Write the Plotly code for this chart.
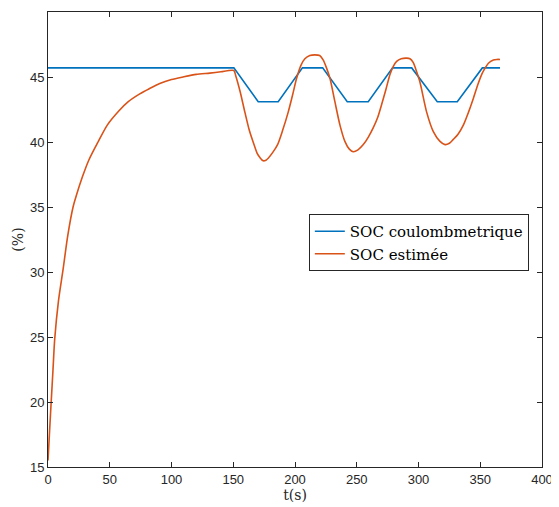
import plotly.graph_objects as go

# SOC coulombmetrique (blue)
t_coul = [0, 150.5, 170.2, 186.4, 206, 222.4, 242.3, 259.3, 279, 294.5, 315.2, 331.4, 351.7, 366]
soc_coul = [45.7, 45.7, 43.1, 43.1, 45.7, 45.7, 43.1, 43.1, 45.7, 45.7, 43.1, 43.1, 45.7, 45.7]

# SOC estimee (orange)
t_est = [0, 1.3, 2.7, 4, 5.4, 8.5, 12.2, 16, 20.3, 23, 27.8, 33, 40.5, 48, 57.5, 65, 74.3, 82,
         90.5, 100, 109.4, 120, 131, 140, 150.5,
         152, 155.5, 159.4, 163, 167, 169.5, 171.6, 174.2, 176.5, 178.3, 182, 185.9, 190, 194.5,
         198, 201.3, 204.8, 208, 212, 216, 220, 222.9, 225.5, 228.3, 232.3, 236.4, 240.4, 244,
         247.2, 251, 255.3, 259.5, 263.4, 267, 270.2, 273.5, 276.9, 279.5, 282.3, 286, 290.4,
         293.1, 295.8, 298.5, 301.2, 306.6, 312, 317.4, 321.5, 325, 328.2, 332, 336.3, 340.5,
         344.4, 348, 351.2, 354, 356.6, 360.6, 363.5, 366]
soc_est = [15.5, 17.8, 20.2, 22.4, 24.8, 27.8, 30.2, 32.8, 35.0, 35.9, 37.3, 38.6, 40.0, 41.3,
           42.4, 43.1, 43.7, 44.1, 44.5, 44.8, 45.0, 45.2, 45.3, 45.4, 45.5,
           45.1, 43.9, 42.3, 40.9, 39.75, 39.1, 38.8, 38.55, 38.6, 38.75, 39.2, 39.8, 40.9, 42.3,
           43.6, 44.9, 45.9, 46.4, 46.65, 46.7, 46.65, 46.3, 45.7, 44.9, 43.1, 41.3, 40.05, 39.45,
           39.25, 39.4, 39.8, 40.4, 41.1, 41.9, 42.9, 44.0, 45.2, 45.8, 46.2, 46.4, 46.45,
           46.4, 46.1, 45.4, 44.6, 42.3, 40.8, 40.05, 39.8, 39.9, 40.2, 40.6, 41.3, 42.3,
           43.35, 44.4, 45.2, 45.7, 46.06, 46.3, 46.35, 46.35]

x_ticks = [0, 50, 100, 150, 200, 250, 300, 350, 400]
y_ticks = [15, 20, 25, 30, 35, 40, 45, 50]

fig = go.Figure()
fig.add_trace(go.Scatter(x=t_coul, y=soc_coul, mode="lines", name="SOC coulombmetrique",
                         line=dict(color="#0072BD", width=1.6)))
fig.add_trace(go.Scatter(x=t_est, y=soc_est, mode="lines", name="SOC estimée",
                         line=dict(color="#D95319", width=1.6, shape="spline", smoothing=0.7)))

axis_style = dict(showgrid=False, zeroline=False, showline=True, linecolor="#262626", linewidth=1,
                  mirror="ticks", ticks="inside", ticklen=5, tickcolor="#262626", automargin=False,
                  tickfont=dict(family="Liberation Sans", size=13, color="#262626"))

fig.update_xaxes(range=[0, 400], tickvals=x_ticks, **axis_style,
                 title=dict(text="t(s)", font=dict(family="DejaVu Serif", size=14, color="#262626"),
                            standoff=1))
fig.update_yaxes(range=[15, 50], tickvals=y_ticks, **axis_style,
                 title=dict(text="(%)", font=dict(family="DejaVu Serif", size=14, color="#262626"),
                            standoff=3))

# page body adds an 8px margin, so the figure is sized to the visible area
fig.update_layout(
    width=551, height=499,
    margin=dict(l=40, r=17, t=4, b=40),
    plot_bgcolor="white", paper_bgcolor="white",
    showlegend=True,
    legend=dict(x=0.528, y=0.556, xanchor="left", yanchor="top",
                font=dict(family="DejaVu Serif", size=15, color="black"),
                bordercolor="#262626", borderwidth=1, bgcolor="white",
                tracegroupgap=0, itemwidth=30),
)

fig.write_html("out.html")
